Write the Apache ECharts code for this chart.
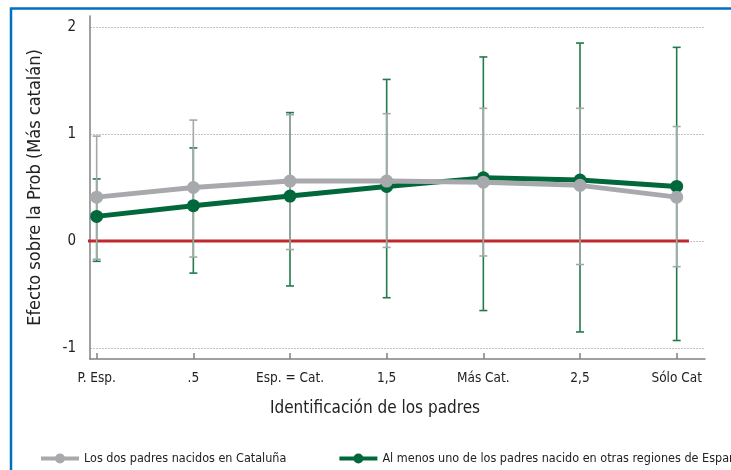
<!DOCTYPE html>
<html>
<head>
<meta charset="utf-8">
<script src="https://cdn.jsdelivr.net/npm/echarts@6/dist/echarts.min.js"></script>
<style>html,body{margin:0;padding:0;background:#fff}#c{width:731px;height:470px}</style>
</head>
<body>
<div id="c"></div>
<script>
const categories = ['P. Esp.', '.5', 'Esp. = Cat.', '1,5', 'Más Cat.', '2,5', 'Sólo Cat'];
const yTicks = [-1, 0, 1, 2];
const seriesNames = ['Los dos padres nacidos en Cataluña', 'Al menos uno de los padres nacido en otras regiones de España'];
const catalanMean = [0.41, 0.50, 0.56, 0.56, 0.55, 0.52, 0.41];
const catalanLow  = [-0.17, -0.15, -0.08, -0.06, -0.14, -0.22, -0.24];
const catalanHigh = [0.98, 1.13, 1.18, 1.19, 1.24, 1.24, 1.07];
const otherMean = [0.23, 0.33, 0.42, 0.51, 0.59, 0.57, 0.51];
const otherLow  = [-0.19, -0.30, -0.42, -0.53, -0.65, -0.85, -0.93];
const otherHigh = [0.58, 0.87, 1.20, 1.51, 1.72, 1.85, 1.81];
const zeroLineX = [-0.152, 6.127];

const FONT = "'Liberation Sans Narrow', 'DejaVu Sans Condensed', 'Liberation Sans', sans-serif";
const GRAY = '#A7A9AC', GREEN = '#00683A';
const LEGEND_ICON = 'path://M0,3 L38,3 L38,7 L0,7 Z M19,0 A5,5 0 1,1 19,10 A5,5 0 1,1 19,0 Z';

function errorBars(name, low, high, color, z) {
  return {
    type: 'custom', name: name, z: z, silent: true,
    data: low.map((l, i) => [i, l, high[i]]),
    encode: { x: 0, y: [1, 2] },
    renderItem: function (params, api) {
      const x = api.value(0);
      const lo = api.coord([x, api.value(1)]);
      const hi = api.coord([x, api.value(2)]);
      const c = 4;
      const st = { stroke: color, lineWidth: 1.6 };
      return { type: 'group', children: [
        { type: 'line', shape: { x1: lo[0], y1: lo[1], x2: hi[0], y2: hi[1] }, style: st },
        { type: 'line', shape: { x1: lo[0] - c, y1: lo[1], x2: lo[0] + c, y2: lo[1] }, style: st },
        { type: 'line', shape: { x1: hi[0] - c, y1: hi[1], x2: hi[0] + c, y2: hi[1] }, style: st }
      ]};
    }
  };
}

const chart = echarts.init(document.getElementById('c'), null, { renderer: 'canvas' });
chart.setOption({
  animation: false,
  backgroundColor: '#fff',
  textStyle: { fontFamily: FONT },
  graphic: [{
    type: 'polyline', silent: true, z: 100,
    shape: { points: [[11, 471], [11, 8.5], [732, 8.5]] },
    style: { stroke: '#0070C0', lineWidth: 2.5, fill: null }
  }],
  grid: { left: 90, top: 16, width: 615, height: 343 },
  legend: {
    left: 36, top: 447, width: 2000,
    itemWidth: 38, itemHeight: 10, itemGap: 53,
    icon: LEGEND_ICON,
    data: seriesNames,
    textStyle: { fontFamily: FONT, fontSize: 12.5, color: '#222' }
  },
  xAxis: {
    type: 'value', min: -0.069, max: 6.293,
    name: 'Identificación de los padres', nameLocation: 'middle', nameGap: 41,
    nameTextStyle: { fontFamily: FONT, fontSize: 17, color: '#222', padding: [0, 45, 0, 0] },
    axisLine: { onZero: false, lineStyle: { color: '#808080', width: 1.5 } },
    axisTick: { show: true, inside: true, length: 6, customValues: [0, 1, 2, 3, 4, 5, 6], lineStyle: { color: '#808080', width: 1.5 } },
    axisLabel: { customValues: [0, 1, 2, 3, 4, 5, 6], margin: 12, fontFamily: FONT, fontSize: 13.5, color: '#222',
      formatter: v => categories[Math.round(v)] },
    splitLine: { show: false }
  },
  yAxis: {
    type: 'value', min: -1.1028, max: 2.1028,
    name: 'Efecto sobre la Prob (Más catalán)', nameLocation: 'middle', nameGap: 46,
    nameTextStyle: { fontFamily: FONT, fontSize: 18, color: '#222' },
    axisLine: { show: true, onZero: false, lineStyle: { color: '#808080', width: 1.5 } },
    axisTick: { show: false, customValues: yTicks },
    axisLabel: { customValues: yTicks, margin: 14, fontFamily: FONT, fontSize: 15, color: '#222' },
    splitLine: { show: true, lineStyle: { color: '#C4C4C4', type: [2, 1], width: 1 } }
  },
  series: [
    { type: 'line', name: 'zero', data: [[zeroLineX[0], 0], [zeroLineX[1], 0]], clip: false, silent: true,
      symbol: 'none', z: 1, lineStyle: { color: '#C1272D', width: 3 } },
    errorBars('err2', otherLow, otherHigh, '#237A4A', 2),
    errorBars('err1', catalanLow, catalanHigh, '#A3A8A8', 3),
    { type: 'line', name: seriesNames[1], data: otherMean.map((v, i) => [i, v]), z: 4,
      symbol: 'circle', symbolSize: 13, itemStyle: { color: GREEN }, lineStyle: { color: GREEN, width: 5 } },
    { type: 'line', name: seriesNames[0], data: catalanMean.map((v, i) => [i, v]), z: 5,
      symbol: 'circle', symbolSize: 13, itemStyle: { color: GRAY }, lineStyle: { color: GRAY, width: 5 } }
  ]
});
</script>
</body>
</html>
